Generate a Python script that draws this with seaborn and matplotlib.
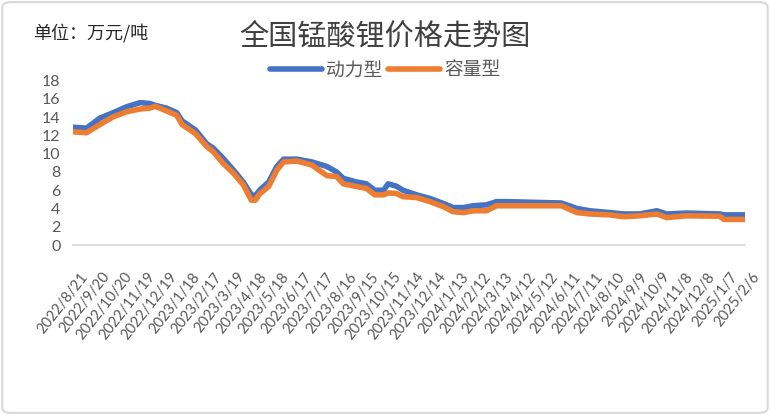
import pandas as pd
import matplotlib.pyplot as plt
import seaborn as sns
from matplotlib.patches import FancyBboxPatch
from matplotlib.transforms import ScaledTranslation

# Values (万元/吨)
dates = [
    "2022-08-21", "2022-09-08", "2022-09-26", "2022-10-14", "2022-11-01", "2022-11-19",
    "2022-12-02", "2022-12-09", "2022-12-24", "2023-01-07", "2023-01-14", "2023-02-01",
    "2023-02-16", "2023-02-25", "2023-03-10", "2023-03-24", "2023-04-06", "2023-04-17",
    "2023-04-22", "2023-04-28", "2023-05-10", "2023-05-21", "2023-05-30", "2023-06-17",
    "2023-07-07", "2023-07-27", "2023-08-09", "2023-08-18", "2023-09-05", "2023-09-18",
    "2023-09-29", "2023-10-11", "2023-10-17", "2023-10-28", "2023-11-06", "2023-11-24",
    "2023-12-12", "2023-12-30", "2024-01-12", "2024-01-26", "2024-02-08", "2024-02-26",
    "2024-03-10", "2024-03-24", "2024-06-05", "2024-06-26", "2024-07-13", "2024-08-09",
    "2024-08-27", "2024-09-18", "2024-10-11", "2024-10-24", "2024-11-20", "2025-01-03",
    "2025-01-09", "2025-02-06",
]
power = [
    12.9, 12.8, 13.9, 14.5, 15.15, 15.6,
    15.5, 15.3, 15.0, 14.5, 13.6, 12.6,
    11.1, 10.6, 9.5, 8.2, 6.9, 5.5,
    5.4, 6.0, 6.9, 8.6, 9.4, 9.4,
    9.1, 8.6, 8.0, 7.3, 6.9, 6.7,
    6.0, 6.0, 6.7, 6.45, 6.0, 5.5,
    5.1, 4.55, 4.1, 4.1, 4.3, 4.4,
    4.75, 4.75, 4.6, 4.0, 3.75, 3.55,
    3.4, 3.4, 3.75, 3.4, 3.5, 3.4,
    3.3, 3.3,
]
capacity = [
    12.4, 12.3, 13.2, 14.05, 14.6, 14.9,
    15.0, 15.2, 14.7, 14.2, 13.2, 12.2,
    10.8, 10.2, 8.95, 7.85, 6.6, 4.9,
    4.9, 5.6, 6.4, 8.2, 9.1, 9.2,
    8.76, 7.6, 7.5, 6.7, 6.4, 6.2,
    5.5, 5.5, 5.7, 5.65, 5.3, 5.2,
    4.75, 4.2, 3.65, 3.55, 3.75, 3.75,
    4.3, 4.3, 4.3, 3.55, 3.4, 3.3,
    3.1, 3.2, 3.4, 3.0, 3.2, 3.15,
    2.8, 2.8,
]
tick_labels = [
    "2022/8/21", "2022/9/20", "2022/10/20", "2022/11/19", "2022/12/19", "2023/1/18",
    "2023/2/17", "2023/3/19", "2023/4/18", "2023/5/18", "2023/6/17", "2023/7/17",
    "2023/8/16", "2023/9/15", "2023/10/15", "2023/11/14", "2023/12/14", "2024/1/13",
    "2024/2/12", "2024/3/13", "2024/4/12", "2024/5/12", "2024/6/11", "2024/7/11",
    "2024/8/10", "2024/9/9", "2024/10/9", "2024/11/8", "2024/12/8", "2025/1/7",
    "2025/2/6",
]
y_ticks = [0, 2, 4, 6, 8, 10, 12, 14, 16, 18]

sns.set_theme(style="white")
plt.rcParams['font.family'] = ['Lato', 'Noto Sans CJK SC', 'DejaVu Sans']

df = pd.DataFrame({"date": pd.to_datetime(dates), "动力型": power, "容量型": capacity})
tick_pos = pd.to_datetime(tick_labels, format="%Y/%m/%d")

fig = plt.figure(figsize=(7.7, 4.15), dpi=100)
ax = fig.add_axes([73 / 770, 170 / 415, 672 / 770, 164.3 / 415])

sns.lineplot(data=df, x="date", y="动力型", color="#4472C4", lw=4, label="动力型", ax=ax)
sns.lineplot(data=df, x="date", y="容量型", color="#ED7D31", lw=4, label="容量型", ax=ax)

ax.set_xlim(tick_pos[0], tick_pos[-1])
ax.set_ylim(0, 18)
ax.set_yticks(y_ticks)
ax.set_xticks(tick_pos)
ax.set_xticklabels(tick_labels)
ax.set_xlabel("")
ax.set_ylabel("")

for s in ["top", "right", "left"]:
    ax.spines[s].set_visible(False)
ax.spines["bottom"].set_color("#d9d9d9")
ax.spines["bottom"].set_linewidth(1.2)

ax.tick_params(axis="x", direction="out", length=5, width=1.2, color="#d9d9d9",
               pad=16, labelsize=10.5, labelcolor="#595959")
ax.tick_params(axis="y", length=0, pad=9, labelsize=11.5, labelcolor="#595959")
plt.setp(ax.get_xticklabels(), rotation=52, ha="right", va="center", rotation_mode="anchor")
shift = ScaledTranslation(12 / 100, 0, fig.dpi_scale_trans)
for lab in ax.get_xticklabels():
    lab.set_transform(lab.get_transform() + shift)

leg = ax.legend(loc="center", bbox_to_anchor=(0.5, 1 - 70 / 415), bbox_transform=fig.transFigure,
                ncol=2, frameon=False, fontsize=13.5, handlelength=2.8,
                handletextpad=0.2, columnspacing=0.3)
for t in leg.get_texts():
    t.set_color("#595959")

fig.text(0.5, 1 - 37 / 415, "全国锰酸锂价格走势图", ha="center", va="center",
         fontsize=21, color="#404040", family=["Noto Sans CJK SC"])
fig.text(33 / 770, 1 - 33 / 415, "单位：万元/吨", ha="left", va="center",
         fontsize=13, color="#262626", family=["Noto Sans CJK SC"])

fig.patches.append(FancyBboxPatch((0.003, 0.005), 0.994, 0.99,
                                  boxstyle="round,pad=0,rounding_size=0.012",
                                  transform=fig.transFigure, fill=False,
                                  ec="#d9d9d9", lw=1.5))

fig.savefig("out.png", dpi=100)
